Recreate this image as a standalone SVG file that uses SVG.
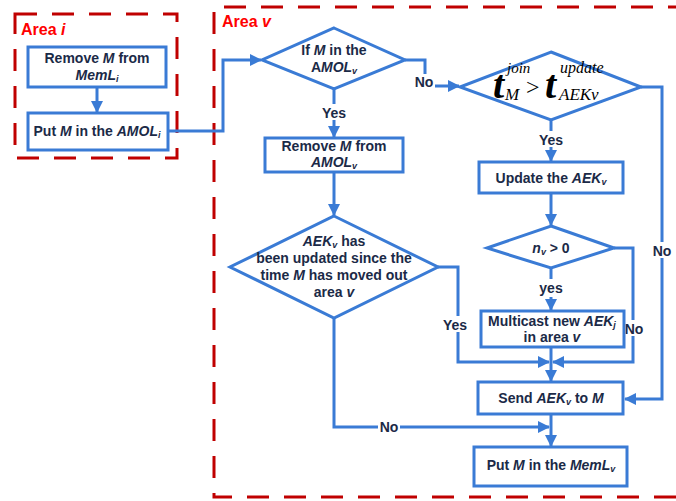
<svg xmlns="http://www.w3.org/2000/svg" width="676" height="501" viewBox="0 0 676 501">
<defs>
<style>
.area{fill:none;stroke:#c00000;stroke-width:3;stroke-dasharray:22 15}
.alab{font-family:"Liberation Sans",Arial,sans-serif;font-weight:bold;font-size:16px;fill:#ff0000}
.box{fill:#fff;stroke:#3a7bd5;stroke-width:3}
.t{font-family:"Liberation Sans",Arial,sans-serif;font-weight:bold;font-size:14px;fill:#1b2a47;text-anchor:middle}
.i{font-style:italic}
.s{font-size:9px;font-style:italic}
.c{fill:none;stroke:#3a7bd5;stroke-width:3}
.lb{fill:#fff}
.m{font-family:"Liberation Serif","Times New Roman",serif;fill:#000;font-style:italic}
</style>
<marker id="ah" viewBox="0 0 12 12" refX="11" refY="6" markerWidth="12" markerHeight="12" markerUnits="userSpaceOnUse" orient="auto">
<path d="M0,0 L12,6 L0,12 z" fill="#3a7bd5"/>
</marker>
</defs>
<rect width="676" height="501" fill="#fff"/>

<g id="areaI">
<rect class="area" x="15" y="14" width="162" height="144"/>
<text class="alab" x="21" y="35">Area <tspan class="i">i</tspan></text>
</g>
<g id="areaV">
<path class="area" d="M690,7 H214 V497 H690"/>
<text class="alab" x="222" y="27">Area <tspan class="i">v</tspan></text>
</g>

<g id="connectors">
<path class="c" d="M97,87 V112" marker-end="url(#ah)"/>
<path class="c" d="M168,131 H223 V60 H261" marker-end="url(#ah)"/>
<path class="c" d="M334,89 V137" marker-end="url(#ah)"/>
<path class="c" d="M405,60 H425 V86 H459" marker-end="url(#ah)"/>
<path class="c" d="M334,172 V215" marker-end="url(#ah)"/>
<path class="c" d="M551,120 V161" marker-end="url(#ah)"/>
<path class="c" d="M551,193 V225" marker-end="url(#ah)"/>
<path class="c" d="M551,268 V310" marker-end="url(#ah)"/>
<path class="c" d="M614,248 H633 V362 H553" marker-end="url(#ah)"/>
<path class="c" d="M438,267 H458 V362 H549" marker-end="url(#ah)"/>
<path class="c" d="M551,347 V381" marker-end="url(#ah)"/>
<path class="c" d="M641,87 H662 V399 H625" marker-end="url(#ah)"/>
<path class="c" d="M551,414 V446" marker-end="url(#ah)"/>
<path class="c" d="M334,318 V427 H549" marker-end="url(#ah)"/>
<rect class="lb" x="320" y="104" width="28" height="16"/>
<text class="t" x="334" y="118">Yes</text>
<rect class="lb" x="413" y="74" width="22" height="16"/>
<text class="t" x="424" y="87">No</text>
<rect class="lb" x="537" y="131" width="28" height="16"/>
<text class="t" x="551" y="145">Yes</text>
<rect class="lb" x="537" y="279" width="28" height="18"/>
<text class="t" x="551" y="293">yes</text>
<rect class="lb" x="623" y="320" width="22" height="16"/>
<text class="t" x="634" y="334">No</text>
<rect class="lb" x="651" y="242" width="22" height="16"/>
<text class="t" x="662" y="256">No</text>
<rect class="lb" x="441" y="316" width="28" height="16"/>
<text class="t" x="455" y="330">Yes</text>
<rect class="lb" x="378" y="420" width="22" height="16"/>
<text class="t" x="389" y="432">No</text>
</g>

<g id="removeMemLi">
<rect class="box" x="28" y="47" width="138" height="40"/>
<text class="t" x="97" y="63">Remove <tspan class="i">M</tspan> from</text>
<text class="t" x="97" y="80"><tspan class="i">MemL</tspan><tspan class="s" dy="2">i</tspan></text>
</g>
<g id="putAMOLi">
<rect class="box" x="28" y="113" width="140" height="37"/>
<text class="t" x="97" y="136">Put <tspan class="i">M</tspan> in the <tspan class="i">AMOL</tspan><tspan class="s" dy="2">i</tspan></text>
</g>

<g id="ifInAMOL">
<path class="box" d="M334,28 L405,60 L334,89 L262,60 z"/>
<text class="t" x="334" y="55">If <tspan class="i">M</tspan> in the</text>
<text class="t" x="334" y="72">A<tspan class="i">MOL</tspan><tspan class="s" dy="2">v</tspan></text>
</g>

<g id="removeAMOLv">
<rect class="box" x="265" y="138" width="138" height="34"/>
<text class="t" x="334" y="151">Remove <tspan class="i">M</tspan> from</text>
<text class="t" x="334" y="167"><tspan class="i">AMOL</tspan><tspan class="s" dy="2">v</tspan></text>
</g>

<g id="aekUpdated">
<path class="box" d="M334,216 L438,267 L334,318 L230,267 z"/>
<text class="t" x="334" y="246"><tspan class="i">AEK</tspan><tspan class="s" dy="2">v</tspan><tspan dy="-2"> has</tspan></text>
<text class="t" x="334" y="263">been updated since the</text>
<text class="t" x="334" y="280">time <tspan class="i">M</tspan> has moved out</text>
<text class="t" x="334" y="297">area <tspan class="i">v</tspan></text>
</g>

<g id="tjoin">
<path class="box" d="M551,52 L641,87 L551,120 L460,87 z"/>
<text class="m" x="493" y="98" font-size="40" font-weight="bold">t</text>
<text class="m" x="507" y="73" font-size="15">join</text>
<text class="m" x="505" y="100" font-size="17">M</text>
<text x="526" y="95" font-size="24" font-family="Liberation Serif,serif" fill="#000">&gt;</text>
<text class="m" x="545" y="98" font-size="40" font-weight="bold">t</text>
<text class="m" x="560" y="73" font-size="16">update</text>
<text class="m" x="559" y="100" font-size="17">AEKv</text>
</g>

<g id="updateAEK">
<rect class="box" x="479" y="162" width="144" height="31"/>
<text class="t" x="551" y="183">Update the <tspan class="i">AEK</tspan><tspan class="s" dy="2">v</tspan></text>
</g>

<g id="nvPositive">
<path class="box" d="M551,226 L614,248 L551,268 L487,248 z"/>
<text class="t" x="551" y="253"><tspan class="i">n</tspan><tspan class="s" dy="2">v</tspan><tspan dy="-2"> &gt; 0</tspan></text>
</g>

<g id="multicast">
<rect class="box" x="481" y="311" width="143" height="36"/>
<text class="t" x="552" y="326">Multicast new <tspan class="i">AEK</tspan><tspan class="s" dy="2">j</tspan></text>
<text class="t" x="552" y="342">in area <tspan class="i">v</tspan></text>
</g>

<g id="sendAEK">
<rect class="box" x="478" y="382" width="145" height="32"/>
<text class="t" x="551" y="403">Send <tspan class="i">AEK</tspan><tspan class="s" dy="2">v</tspan><tspan dy="-2"> to </tspan><tspan class="i">M</tspan></text>
</g>

<g id="putMemLv">
<rect class="box" x="474" y="447" width="153" height="39"/>
<text class="t" x="551" y="470">Put <tspan class="i">M</tspan> in the <tspan class="i">MemL</tspan><tspan class="s" dy="2">v</tspan></text>
</g>
</svg>
